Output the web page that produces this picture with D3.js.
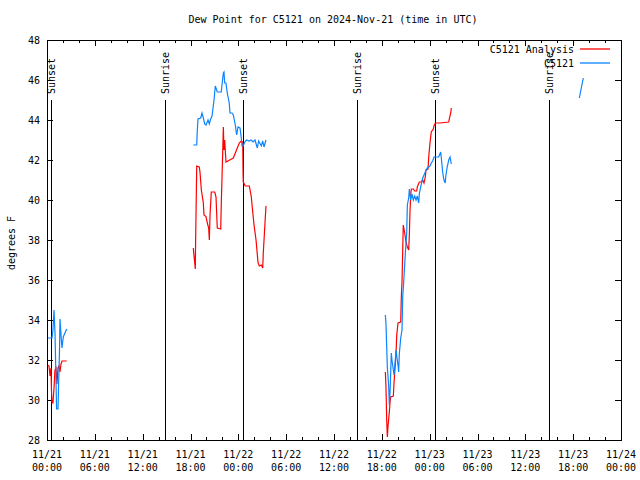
<!DOCTYPE html>
<html>
<head>
<meta charset="utf-8">
<script src="https://cdn.jsdelivr.net/npm/d3@7"></script>
<style>
  body { margin: 0; background: #fff; }
  svg { display: block; }
  text { font-family: "DejaVu Sans Mono", "Liberation Mono", monospace; font-size: 10px; fill: #000; }
</style>
</head>
<body>
<svg id="chart" width="640" height="480"></svg>
<script>
// ---- Data (hours since 2024-11-21 00:00 UTC; null = gap) ----
const analysisHours = [
  0.06, 0.25, 0.38, 0.5, 0.56, 0.63, 0.75, 0.88, 1.0, 1.13, 1.25, 1.38, 1.5, 1.63, 1.76, 1.88, 2.47,
  null,
  18.35, 18.53, 18.6, 18.64, 18.78, 19.1, 19.19, 19.36, 19.61, 19.69, 19.94, 20.11, 20.28, 20.36, 20.45,
  20.61, 21.04, 21.2, 21.36, 21.79, 21.86, 22.04, 22.12, 22.2, 22.29, 22.45, 23.37, 23.62, 23.87, 24.12,
  24.37, 24.55, 24.59, 24.62, 24.87, 25.38, 25.63, 25.72, 25.97, 26.22, 26.47, 26.63, 26.88, 27.06,
  27.13, 27.38, 27.47,
  null,
  42.44, 42.52, 42.61, 42.69, 42.77, 42.94, 43.03, 43.11, 43.44, 43.53, 43.78, 43.87, 44.03, 44.37,
  44.44, 44.53, 44.62, 44.69, 44.87, 45.03, 45.2, 45.37, 45.45, 45.53, 45.62, 45.7, 45.95, 46.12,
  46.38, 46.45, 46.7, 46.95, 47.13, 47.29, 47.45, 47.54, 47.79, 47.88, 48.04, 48.2, 48.46, 48.54,
  48.71, 49.3, 50.39, 50.46, 50.64, 50.72
];
const analysisValues = [
  31.75, 31.7, 31.2, 31.6, 30.5, 29.85, 29.85, 30.6, 31.5, 31.6, 30.8, 31.6, 31.7, 31.4, 31.8, 31.95, 31.95,
  null,
  37.6, 36.85, 36.55, 37.85, 41.7, 41.65, 41.4, 40.5, 39.85, 39.25, 39.17, 38.85, 38.6, 38.0, 39.25,
  40.4, 40.4, 40.15, 38.6, 38.55, 39.8, 42.4, 43.65, 42.5, 43.0, 41.9, 42.1, 42.35, 42.6, 42.85,
  42.95, 42.9, 41.5, 40.9, 40.7, 40.7, 40.15, 39.75, 38.75, 38.0, 36.87, 36.7, 36.75, 36.6,
  37.35, 39.1, 39.7,
  null,
  31.4, 30.65, 29.0, 28.15, 28.65, 29.4, 29.9, 30.15, 30.2, 30.85, 32.35, 33.25, 33.85, 33.9,
  35.1, 35.9, 37.5, 38.75, 38.35, 37.9, 37.65, 37.5, 38.25, 39.4, 40.25, 40.55, 40.55, 40.45,
  40.45, 40.65, 40.9, 40.9, 41.0, 40.85, 41.15, 41.5, 41.55, 42.15, 42.85, 43.4, 43.55, 43.7,
  43.85, 43.85, 43.9, 44.05, 44.35, 44.6
];
const obsHours = [
  0.13, 0.63, 0.75, 0.88, 1.0, 1.13, 1.2, 1.38, 1.47, 1.57, 1.63, 1.8, 1.88, 2.04, 2.2, 2.47,
  null,
  18.35, 18.78, 18.85, 18.94, 19.28, 19.44, 19.61, 19.78, 19.94, 20.2, 20.36, 20.53, 20.7, 20.95,
  21.11, 21.36, 21.86, 21.95, 22.12, 22.2, 22.29, 22.45, 22.61, 22.86, 22.95, 23.2, 23.37, 23.62,
  23.79, 23.96, 24.21, 24.37, 24.46, 24.62, 24.8, 25.05, 25.34, 25.59, 25.84, 26.09, 26.38, 26.55,
  26.88, 27.06, 27.22, 27.47,
  null,
  42.44, 42.52, 42.61, 42.69, 42.87, 42.94, 43.03, 43.11, 43.19, 43.27, 43.36, 43.53, 43.69, 43.78,
  43.9, 44.03, 44.11, 44.19, 44.37, 44.53, 44.62, 44.78, 44.95, 45.12, 45.2, 45.37, 45.45, 45.62,
  45.78, 45.95, 46.12, 46.29, 46.45, 46.62, 46.7, 46.87, 47.13, 47.29, 47.45, 47.7, 48.04, 48.2,
  48.38, 48.54, 49.13, 49.38, 49.45, 49.63, 49.79, 49.95, 50.04, 50.2, 50.39, 50.55, 50.72,
  null,
  66.77, 67.02, 67.27
];
const obsValues = [
  33.1, 33.1, 33.5, 34.5, 33.4, 31.0, 29.55, 29.55, 31.0, 32.5, 34.05, 33.0, 32.6, 33.15, 33.3, 33.55,
  null,
  42.75, 42.75, 43.45, 44.05, 44.1, 44.35, 44.1, 43.8, 43.75, 44.0, 43.8, 44.05, 44.2, 45.0,
  45.7, 45.4, 45.4, 45.75, 46.35, 46.4, 45.85, 45.85, 45.35, 44.85, 44.35, 44.35, 44.25, 43.75,
  43.25, 43.65, 43.6, 43.1, 42.7, 42.7, 42.9, 43.0, 42.95, 43.0, 42.9, 43.0, 42.6, 42.95,
  42.7, 42.95, 42.65, 43.0,
  null,
  34.25, 33.8, 32.65, 31.65, 30.6, 29.75, 30.4, 31.35, 32.35, 32.0, 31.75, 31.25, 32.0, 32.5,
  32.1, 31.75, 31.4, 32.3, 33.1, 33.5, 35.15, 36.15, 37.35, 38.35, 39.75, 40.1, 40.55, 40.0,
  40.3, 40.0, 40.2, 40.0, 40.2, 39.85, 40.3, 40.65, 41.1, 41.25, 41.4, 41.6, 41.7, 41.85,
  41.95, 42.15, 42.15, 42.4, 42.15, 41.4, 41.0, 40.85, 41.25, 41.65, 42.0, 42.15, 41.8,
  null,
  45.1, 45.6, 46.1
];
const sunEventHours = [0.5, 14.8, 24.59, 38.9, 48.67, 62.97];
const sunEventLabels = ["Sunset", "Sunrise", "Sunset", "Sunrise", "Sunset", "Sunrise"];
const seriesNames = ["C5121 Analysis", "C5121"];
const seriesColors = ["#ff0000", "#0a84ff"];
const yTicks = [28, 30, 32, 34, 36, 38, 40, 42, 44, 46, 48];
const titleText = "Dew Point for C5121 on 2024-Nov-21 (time in UTC)";
const yLabelText = "degrees F";

// ---- Layout ----
const svg = d3.select("#chart");
const L = 47, R = 621, T = 40, B = 440;
const t0 = Date.UTC(2024, 10, 21, 0, 0);
const toDate = h => new Date(t0 + h * 3600e3);

const x = d3.scaleUtc().domain([toDate(0), toDate(72)]).range([L, R]);
const y = d3.scaleLinear().domain([28, 48]).range([B, T]);

svg.append("rect").attr("width", 640).attr("height", 480).attr("fill", "#fff");

// Title
svg.append("text").attr("x", 333).attr("y", 19).attr("dy", "0.35em")
  .attr("text-anchor", "middle").text(titleText);

// Y label
svg.append("text").attr("transform", "translate(11,243) rotate(-90)")
  .attr("dy", "0.35em").attr("text-anchor", "middle").text(yLabelText);

// Ticks
const majorX = d3.range(0, 73, 6).map(toDate);
const minorX = d3.range(0, 73, 2).filter(h => h % 6 !== 0).map(toDate);
const axisG = svg.append("g").attr("shape-rendering", "crispEdges").attr("stroke", "#000");

majorX.forEach(d => {
  const xx = Math.round(x(d)) + 0.5;
  axisG.append("line").attr("x1", xx).attr("x2", xx).attr("y1", B).attr("y2", B - 6);
  axisG.append("line").attr("x1", xx).attr("x2", xx).attr("y1", T).attr("y2", T + 6);
});
minorX.forEach(d => {
  const xx = Math.round(x(d)) + 0.5;
  axisG.append("line").attr("x1", xx).attr("x2", xx).attr("y1", B).attr("y2", B - 3);
  axisG.append("line").attr("x1", xx).attr("x2", xx).attr("y1", T).attr("y2", T + 3);
});
yTicks.forEach(v => {
  const yy = Math.round(y(v)) + 0.5;
  axisG.append("line").attr("x1", L).attr("x2", L + 6).attr("y1", yy).attr("y2", yy);
  axisG.append("line").attr("x1", R).attr("x2", R - 6).attr("y1", yy).attr("y2", yy);
});

// Tick labels
const fmtDay = d3.utcFormat("%m/%d"), fmtTime = d3.utcFormat("%H:%M");
majorX.forEach(d => {
  svg.append("text").attr("x", x(d)).attr("y", 454).attr("dy", "0.35em")
    .attr("text-anchor", "middle").text(fmtDay(d));
  svg.append("text").attr("x", x(d)).attr("y", 467).attr("dy", "0.35em")
    .attr("text-anchor", "middle").text(fmtTime(d));
});
yTicks.forEach(v => {
  svg.append("text").attr("x", 40).attr("y", y(v)).attr("dy", "0.35em")
    .attr("text-anchor", "end").text(v);
});

// Sun events
sunEventHours.forEach((h, i) => {
  const xx = Math.round(x(toDate(h))) + 0.5;
  svg.append("line").attr("shape-rendering", "crispEdges").attr("stroke", "#000")
    .attr("x1", xx).attr("x2", xx).attr("y1", y(45)).attr("y2", B);
  svg.append("text").attr("transform", `translate(${xx},${y(45) - 6}) rotate(-90)`)
    .attr("dy", "0.35em").attr("text-anchor", "start").text(sunEventLabels[i]);
});

// Series
function pts(hours, vals) {
  return hours.map((h, i) => ({ h, v: vals[i] }));
}
const line = d3.line()
  .defined(d => d.h != null && d.v != null)
  .x(d => x(toDate(d.h)))
  .y(d => y(d.v));

svg.append("path").datum(pts(analysisHours, analysisValues))
  .attr("fill", "none").attr("stroke", seriesColors[0]).attr("stroke-width", 1.2)
  .attr("d", line);
svg.append("path").datum(pts(obsHours, obsValues))
  .attr("fill", "none").attr("stroke", seriesColors[1]).attr("stroke-width", 1.2)
  .attr("d", line);

// Border
svg.append("rect").attr("x", L + 0.5).attr("y", T + 0.5).attr("width", R - L).attr("height", B - T)
  .attr("fill", "none").attr("stroke", "#000").attr("shape-rendering", "crispEdges");

// Legend
seriesNames.forEach((name, i) => {
  const ly = 49 + i * 14;
  svg.append("text").attr("x", 574).attr("y", ly).attr("dy", "0.35em")
    .attr("text-anchor", "end").text(name);
  svg.append("path")
    .attr("d", `M580,${ly}H610`)
    .style("stroke", seriesColors[i]).style("stroke-width", "1.3px").style("fill", "none");
});
</script>
</body>
</html>
